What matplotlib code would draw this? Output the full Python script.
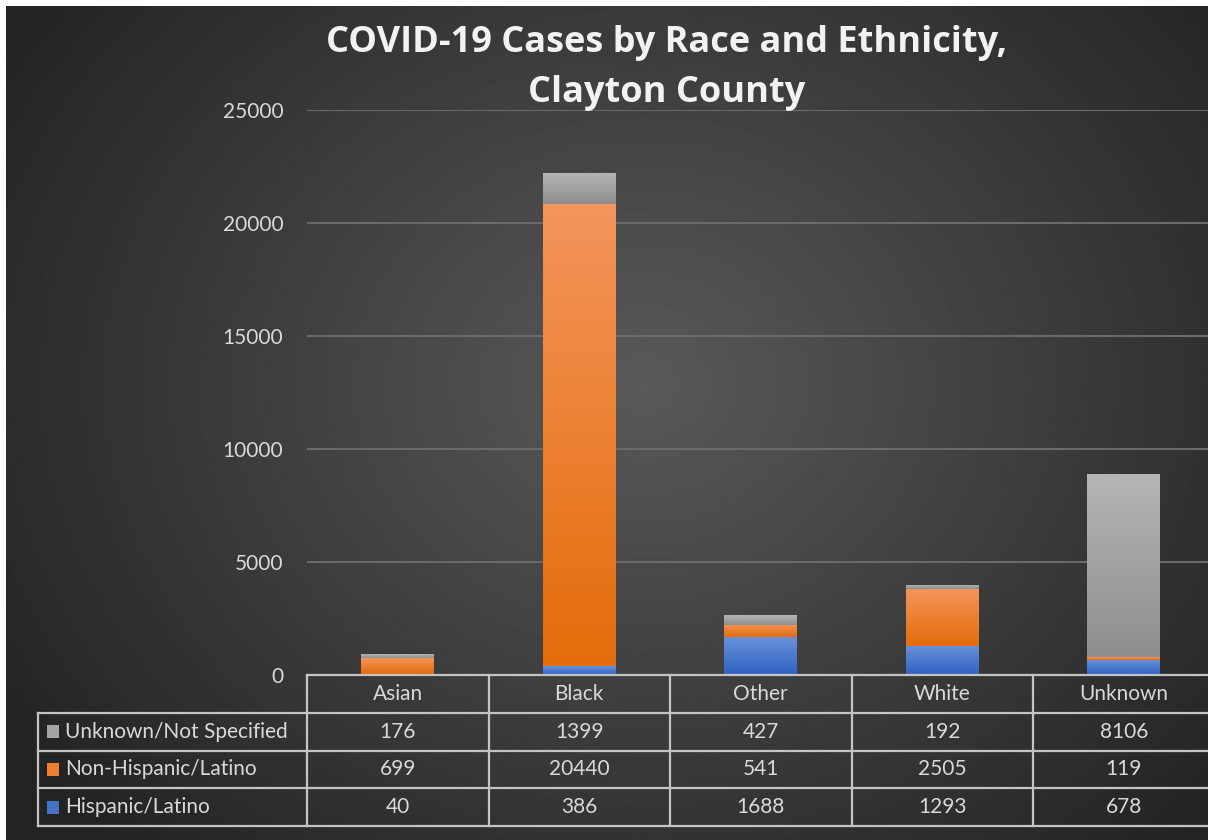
import numpy as np
import matplotlib
matplotlib.use("Agg")
import matplotlib.pyplot as plt
from matplotlib.colors import LinearSegmentedColormap
from matplotlib.patches import Rectangle
from matplotlib.transforms import blended_transform_factory

categories = ["Asian", "Black", "Other", "White", "Unknown"]
hispanic = [40, 386, 1688, 1293, 678]
non_hispanic = [699, 20440, 541, 2505, 119]
unknown = [176, 1399, 427, 192, 8106]
series_names = ["Hispanic/Latino", "Non-Hispanic/Latino", "Unknown/Not Specified"]
y_ticks = [0, 5000, 10000, 15000, 20000, 25000]

# (top colour, bottom colour) of each segment's vertical gradient
GRADS = [("#6a92da", "#2f62c2"), ("#f4955c", "#e46c0a"), ("#b5b5b5", "#8e8e8e")]
SWATCH = ["#4472c4", "#ed7d31", "#a5a5a5"]
TXT = "#d9d9d9"
LINE = "#c4c4c4"

W, H = 1208, 840
plt.rcParams["font.family"] = ["Lato", "DejaVu Sans"]
fig = plt.figure(figsize=(W / 100, H / 100), dpi=100, facecolor="white")

# radial background
bg = fig.add_axes([0, 0, 1, 1], zorder=-5)
yy, xx = np.mgrid[0:H, 0:W]
r = np.hypot((xx - 640) / 760, (yy - 380) / 640)
shade = np.clip(0.35 - 0.21 * r, 0.14, 0.36)
bg.imshow(shade, cmap="gray", vmin=0, vmax=1, extent=[6, W, H, 6], aspect="auto")
bg.set_xlim(0, W)
bg.set_ylim(H, 0)
bg.set_axis_off()

ax = fig.add_axes([307 / W, 1 - 675 / H, 907.5 / W, 565 / H])
ax.patch.set_alpha(0)
x = np.arange(len(categories))
bottom = np.zeros(len(categories))
for vals, (top_c, bot_c), sw in zip([hispanic, non_hispanic, unknown], GRADS, SWATCH):
    bars = ax.bar(x, vals, 0.4, bottom=bottom, color=sw, zorder=3, linewidth=0)
    cmap = LinearSegmentedColormap.from_list("g", [bot_c, top_c])
    grad = np.linspace(1, 0, 100).reshape(-1, 1)
    for p in bars:
        x0, y0 = p.get_xy()
        im = ax.imshow(grad, cmap=cmap, vmin=0, vmax=1, aspect="auto", zorder=3.5,
                       extent=[x0, x0 + p.get_width(), y0, y0 + p.get_height()])
        im.set_clip_path(p)
    bottom += np.array(vals)

ax.set_xlim(-0.5, 4.5)
ax.set_ylim(0, 25000)
ax.set_yticks(y_ticks)
ax.set_yticklabels([str(t) for t in y_ticks])
ax.set_xticks([])
ax.tick_params(axis="y", length=0, pad=17, labelcolor=TXT, labelsize=15)
for s in ax.spines.values():
    s.set_visible(False)
ax.grid(axis="y", color="#6a6a6a", linewidth=1.5, zorder=1)
ax.set_axisbelow(True)

# data table underneath
tr = blended_transform_factory(ax.transData, ax.transAxes)
rh = 37.75 / 565
xl = -0.5 - (307 - 38) / 181.5
kw = dict(transform=tr, color=LINE, linewidth=1.6, clip_on=False, zorder=5)
ax.plot([-0.5, 4.6], [0, 0], **kw)
for k in range(1, 5):
    ax.plot([xl, 4.6], [-k * rh, -k * rh], **kw)
ax.plot([xl, xl], [-rh, -4 * rh], **kw)
for i in range(len(categories)):
    ax.plot([i - 0.5, i - 0.5], [0, -4 * rh], **kw)
    ax.text(i, -0.5 * rh, categories[i], transform=tr, ha="center", va="center",
            color=TXT, fontsize=15)

rows = list(zip(series_names, [hispanic, non_hispanic, unknown], SWATCH))[::-1]
for r_i, (name, vals, sw) in enumerate(rows):
    yc = -(r_i + 1.5) * rh
    ax.add_patch(Rectangle((xl + 9 / 181.5, yc - 6.5 / 565), 12 / 181.5, 13 / 565,
                           transform=tr, facecolor=sw, edgecolor="none", clip_on=False))
    ax.text(xl + 27 / 181.5, yc, name, transform=tr, ha="left", va="center",
            color=TXT, fontsize=15)
    for i, v in enumerate(vals):
        ax.text(i, yc, str(v), transform=tr, ha="center", va="center",
                color=TXT, fontsize=15)

fig.text(667 / W, 1 - 68 / H, "COVID-19 Cases by Race and Ethnicity,\nClayton County",
         ha="center", va="center", fontsize=26, fontweight="bold", color="#f2f2f2",
         linespacing=1.5, family=["Open Sans", "DejaVu Sans"])

fig.savefig("out.png", dpi=100, facecolor=fig.get_facecolor())
